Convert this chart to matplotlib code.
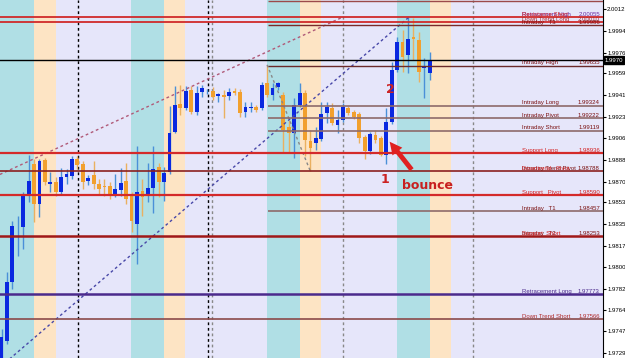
import matplotlib.pyplot as plt
import numpy as np

# hourly candles (open, high, low, close)
opens = [1.97160, 1.97390, 1.97873, 1.98324, 1.98324, 1.98587, 1.98841, 1.98513, 1.98874, 1.98677,
         1.98693, 1.98611, 1.98734, 1.98743, 1.98882, 1.98841, 1.98701, 1.98751, 1.98677, 1.98660,
         1.98660, 1.98587, 1.98628, 1.98701, 1.98579, 1.98349, 1.98620, 1.98579, 1.98644, 1.98824,
         1.98693, 1.98775, 1.99112, 1.99341, 1.99308, 1.99456, 1.99276, 1.99439, 1.99442, 1.99448,
         1.99407, 1.99415, 1.99407, 1.99448, 1.99439, 1.99276, 1.99308, 1.99317, 1.99308, 1.99513,
         1.99415, 1.99480, 1.99415, 1.99152, 1.99103, 1.99333, 1.99431, 1.99030, 1.99021, 1.99054,
         1.99267, 1.99308, 1.99169, 1.99210, 1.99308, 1.99276, 1.99259, 1.99070, 1.98948, 1.99087,
         1.99062, 1.98923, 1.99194, 1.99620, 1.99850, 1.99743, 1.99891, 1.99866, 1.99636, 1.99595]
highs = [1.97488, 1.97955, 1.98374, 1.98415, 1.98611, 1.98923, 1.98882, 1.98890, 1.98898, 1.98775,
         1.98734, 1.98816, 1.98800, 1.98907, 1.98907, 1.98866, 1.98751, 1.98866, 1.98718, 1.98718,
         1.98693, 1.98759, 1.98816, 1.98857, 1.98611, 1.98989, 1.98718, 1.98857, 1.98989, 1.98857,
         1.98824, 1.99325, 1.99489, 1.99497, 1.99489, 1.99489, 1.99489, 1.99497, 1.99464, 1.99480,
         1.99431, 1.99456, 1.99472, 1.99472, 1.99464, 1.99358, 1.99358, 1.99333, 1.99521, 1.99661,
         1.99513, 1.99521, 1.99439, 1.99210, 1.99390, 1.99513, 1.99456, 1.99128, 1.99152, 1.99358,
         1.99358, 1.99349, 1.99292, 1.99349, 1.99325, 1.99292, 1.99276, 1.99087, 1.99112, 1.99128,
         1.99079, 1.99308, 1.99686, 1.99891, 1.99948, 2.00055, 2.00046, 1.99932, 1.99718, 1.99768]
lows = [1.97144, 1.97365, 1.97816, 1.98087, 1.98144, 1.98529, 1.98365, 1.98406, 1.98669, 1.98611,
        1.98579, 1.98595, 1.98677, 1.98718, 1.98800, 1.98636, 1.98669, 1.98636, 1.98595, 1.98579,
        1.98554, 1.98570, 1.98579, 1.98513, 1.98283, 1.98021, 1.98415, 1.98529, 1.98439, 1.98570,
        1.98538, 1.98759, 1.99103, 1.99251, 1.99292, 1.99259, 1.99251, 1.99399, 1.99423, 1.99374,
        1.99358, 1.99226, 1.99374, 1.99415, 1.99235, 1.99235, 1.99276, 1.99276, 1.99292, 1.99399,
        1.99374, 1.99456, 1.98939, 1.98939, 1.98898, 1.99317, 1.98907, 1.98784, 1.98964, 1.99030,
        1.99185, 1.99169, 1.99103, 1.99194, 1.99251, 1.99218, 1.99021, 1.98882, 1.98931, 1.99021,
        1.98907, 1.98849, 1.99177, 1.99603, 1.99603, 1.99595, 1.99702, 1.99521, 1.99390, 1.99538]
closes = [1.97422, 1.97873, 1.98333, 1.98330, 1.98579, 1.98701, 1.98513, 1.98866, 1.98693, 1.98693,
          1.98611, 1.98734, 1.98759, 1.98882, 1.98833, 1.98693, 1.98726, 1.98677, 1.98636, 1.98652,
          1.98579, 1.98636, 1.98685, 1.98554, 1.98374, 1.98611, 1.98570, 1.98644, 1.98800, 1.98693,
          1.98767, 1.99103, 1.99333, 1.99308, 1.99448, 1.99276, 1.99431, 1.99472, 1.99448, 1.99399,
          1.99423, 1.99399, 1.99439, 1.99431, 1.99267, 1.99317, 1.99312, 1.99292, 1.99497, 1.99415,
          1.99472, 1.99513, 1.99128, 1.99103, 1.99333, 1.99431, 1.99046, 1.98980, 1.99062, 1.99259,
          1.99317, 1.99185, 1.99210, 1.99317, 1.99267, 1.99235, 1.99062, 1.98948, 1.99095, 1.99046,
          1.98923, 1.99194, 1.99620, 1.99850, 1.99727, 1.99874, 1.99874, 1.99603, 1.99645, 1.99702]

# horizontal levels drawn by the indicator
level_prices = [2.00186, 2.00055, 2.00010, 1.99986, 1.99655, 1.99324, 1.99222, 1.99119,
                1.98936, 1.98788, 1.98590, 1.98457, 1.98253, 1.97773, 1.97566]
level_names = ['', 'Retracement High', 'Down Trend Long', 'Intraday   T3', 'Intraday High',
               'Intraday Long', 'Intraday Pivot', 'Intraday Short', 'Support Long',
               'Intraday Trend Pivot', 'Support   Pivot', 'Intraday   T1', 'Intraday   T2',
               'Retracement Long', 'Down Trend Short']
# labels printed on top of another one in the screenshot
extra_names = ['Resistance Short', 'Downtrend   Pivot', 'Support  Short']
extra_prices = [2.00055, 1.98788, 1.98253]

current_price = 1.9970

tick_values = [2.0012, 1.9994, 1.9976, 1.9959, 1.9941, 1.9923, 1.9906, 1.9888, 1.9870,
               1.9853, 1.9835, 1.9817, 1.9800, 1.9782, 1.9764, 1.9747, 1.9729]
tick_labels = ['%.4f' % v for v in tick_values]

lavender = '#e6e6fa'
teal = '#b0dfe5'
peach = '#fde4c4'
bull = '#0a28e0'
bull_wick = '#4a90d8'
bear = '#f2a02e'
bear_wick = '#eab060'

fig = plt.figure(figsize=(6.25, 3.58), dpi=100)
ax = fig.add_axes([0, 0, 603 / 625.0, 1])
ax.set_facecolor(lavender)
ax.set_xlim(-0.28, 110.98)
ax.set_ylim(1.97249, 2.00194)

# session bands
for start in [-0.5, 23.9, 49.0, 73.0]:
    s2 = 6.0 if start < 0 else start + 6.0
    ax.axvspan(start, s2, color=teal, lw=0, zorder=0)
    ax.axvspan(s2, s2 + 4.0, color=peach, lw=0, zorder=0)

# day separators
ax.axvline(14.1, color='black', ls=(0, (2, 2)), lw=1, zorder=1)
ax.axvline(38.1, color='black', ls=(0, (2, 2)), lw=1, zorder=1)
ax.axvline(38.8, color='#888888', ls=(0, (2, 2)), lw=1, zorder=1)
ax.axvline(63.0, color='#888888', ls=(0, (2, 2)), lw=1, zorder=1)
ax.axvline(87.0, color='#888888', ls=(0, (2, 2)), lw=1, zorder=1)

# candles
x = np.arange(len(opens))
for i in x:
    o, h, l, c = opens[i], highs[i], lows[i], closes[i]
    up = c >= o
    ax.vlines(i, l, h, color=bull_wick if up else bear_wick, lw=1, zorder=2)
    ax.bar(i, max(abs(c - o), 0.00003), bottom=min(o, c), width=0.7,
           color=bull if up else bear, lw=0, zorder=3)

# trend lines
ax.plot([-0.3, 63.0], [1.98759, 2.00054], color='#b05a78', ls=(0, (2, 2)), lw=1, zorder=4)
ax.plot([-0.3, 75.2], [1.97173, 2.00054], color='#4848a8', ls=(0, (2, 2)), lw=1, zorder=4)
ax.plot([49.0, 57.0], [1.99661, 1.98784], color='#888888', ls=(0, (2, 2)), lw=1, zorder=4)

# level lines
line_styles = [('#9c4a4a', 1.0, 49.2), ('#d02a2a', 1.3, -1), ('#d02a2a', 1.3, -1),
               ('#7a2a2a', 1.0, 49.2), ('#6b2a2a', 1.0, 49.2), ('#8e6a6a', 1.2, 49.2),
               ('#8e6a6a', 1.2, 49.2), ('#8e6a6a', 1.2, 49.2), ('#d42a2a', 1.6, -1),
               ('#8b2020', 1.2, -1), ('#d42a2a', 1.6, -1), ('#8e6a6a', 1.2, 49.2),
               ('#a01818', 1.8, -1), ('#4b2a8c', 1.8, -1), ('#8b4a4a', 1.2, -1)]
for p, name, (col, lw, x0) in zip(level_prices, level_names, line_styles):
    ax.hlines(p, x0, 111, color=col, lw=lw, zorder=5)
    if name == '':
        continue
    if name.startswith('Support'):
        tcol = '#d42020'
    elif name.startswith('Retracement Long'):
        tcol = '#4b2a8c'
    elif name.startswith('Retracement'):
        tcol = '#6a2aa0'
    elif name.startswith('Down'):
        tcol = '#b02a2a'
    else:
        tcol = '#7a1010'
    ax.text(96.0, p + 0.00003, name, color=tcol, fontsize=4.3, ha='left', va='bottom',
            family='Liberation Sans', zorder=6)
    ax.text(110.4, p + 0.00003, '%.5f' % p, color=tcol, fontsize=4.3, ha='right', va='bottom',
            family='Liberation Sans', zorder=6)
for p, name in zip(extra_prices, extra_names):
    ax.text(96.0, p + 0.00003, name, color='#d42020', fontsize=4.3, ha='left', va='bottom',
            family='Liberation Sans', zorder=6)

ax.axhline(current_price, color='black', lw=1, zorder=5)

# annotations
ax.text(70.8, 1.98715, '1', color='#cc2222', fontsize=9, fontweight='bold', ha='center', va='center', zorder=7)
ax.text(71.7, 1.99454, '2', color='#cc2222', fontsize=9, fontweight='bold', ha='center', va='center', zorder=7)
ax.text(78.6, 1.98668, 'bounce', color='#c82020', fontsize=9, fontweight='bold', ha='center', va='center', zorder=7)
ax.annotate('', xy=(71.3, 1.99046), xytext=(76.0, 1.98780),
            arrowprops=dict(arrowstyle='simple,head_length=0.9,head_width=0.9,tail_width=0.35',
                            color='#e02020', lw=0), zorder=7)

# right price axis
for s in ['left', 'top', 'bottom']:
    ax.spines[s].set_visible(False)
ax.spines['right'].set_color('black')
ax.set_xticks([])
ax.yaxis.tick_right()
ax.set_yticks(tick_values)
ax.set_yticklabels(tick_labels, family='Liberation Sans', fontsize=4.3)
ax.tick_params(axis='y', direction='out', length=2.5, pad=0.5, width=0.8)
ax.text(1.003, current_price, '%.4f' % current_price, transform=ax.get_yaxis_transform(),
        color='white', fontsize=4.3, family='Liberation Sans', ha='left', va='center',
        bbox=dict(facecolor='black', edgecolor='black', pad=0.8), clip_on=False)

plt.savefig('out.png', dpi=100)
plt.close('all')
